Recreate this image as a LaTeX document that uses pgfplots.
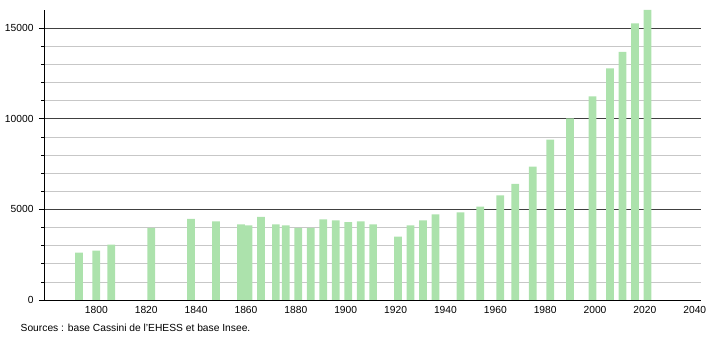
\documentclass[border=0pt]{standalone}
\usepackage{fontspec}
\setmainfont{Liberation Sans}
\usepackage{pgfplots}
\pgfplotsset{compat=1.18}
\definecolor{barg}{RGB}{172,226,172}
\begin{document}
\begin{tikzpicture}
\path[use as bounding box] (0,0) rectangle (710bp,340bp);
\begin{axis}[
  at={(44bp,40bp)}, anchor=south west,
  scale only axis, width=657bp, height=290bp,
  xmin=1779, xmax=2042.5, ymin=0, ymax=16000,
  axis x line=bottom, axis y line=left,
  axis line style={-, black, line width=0.8pt},
  xtick={1800,1820,...,2040},
  x tick style={draw=none},
  ytick={0,5000,10000,15000}, minor y tick num=4,
  scaled y ticks=false,
  ymajorgrids, yminorgrids,
  major grid style={draw=black!75, line width=0.6pt},
  minor grid style={draw=black!22, line width=0.6pt},
  tick align=outside, major tick length=5bp, minor tick length=2.5bp,
  y tick style={black, line width=0.6pt},
  tick label style={font=\fontsize{10.3}{12}\selectfont},
  x tick label style={yshift=2bp},
  y tick label style={xshift=-2bp},
  /pgf/number format/1000 sep={},
  /pgf/number format/assume math mode=true,
  ybar, bar width=3.1,
]
\addplot[draw=none, fill=barg] coordinates {
(1793,2611) (1800,2722) (1806,3056) (1822,3981) (1838,4481) (1848,4333)
(1858,4167) (1861,4111) (1866,4593) (1872,4167) (1876,4111) (1881,3981)
(1886,3981) (1891,4444) (1896,4389) (1901,4296) (1906,4333) (1911,4167)
(1921,3500) (1926,4111) (1931,4389) (1936,4722) (1946,4833) (1954,5148)
(1962,5778) (1968,6407) (1975,7360) (1982,8854) (1990,10017) (1999,11234)
(2006,12784) (2011,13686) (2016,15257) (2021,16000)
};
\end{axis}
\node[anchor=base west, font=\fontsize{10.3}{12}\selectfont, inner sep=0pt] at (20.5bp,8.5bp) {Sources : base Cassini de l'EHESS et base Insee.};
\end{tikzpicture}
\end{document}
